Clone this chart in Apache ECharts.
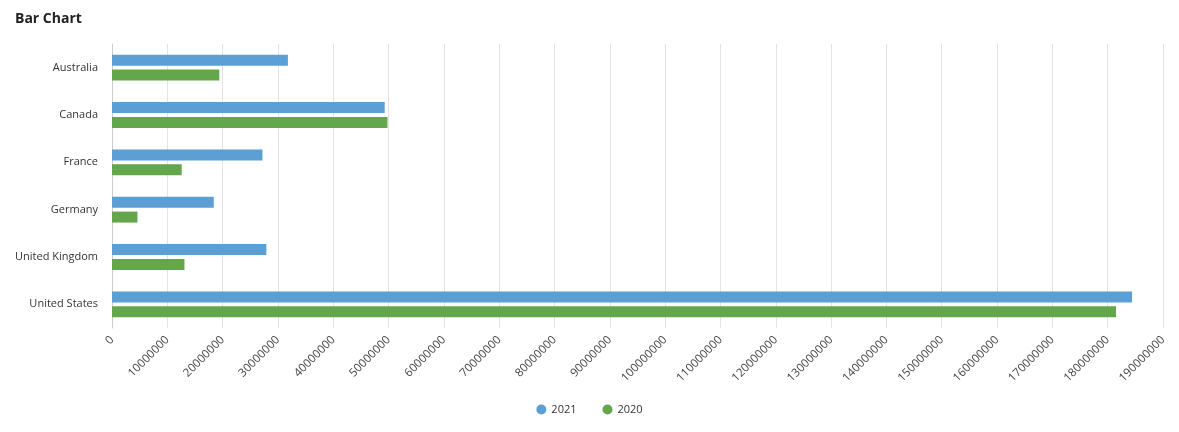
<!DOCTYPE html>
<html><head><meta charset="utf-8">
<script src="https://cdn.jsdelivr.net/npm/echarts@6/dist/echarts.min.js"></script>
<style>html,body{margin:0;padding:0;background:#fff}#c{width:1179px;height:432px}</style>
</head><body><div id="c"></div>
<script>
const categories = ['Australia','Canada','France','Germany','United Kingdom','United States'];
const values2021 = [31800000, 49300000, 27200000, 18400000, 27900000, 184400000];
const values2020 = [19400000, 49800000, 12600000, 4600000, 13100000, 181500000];
const seriesNames = ['2021','2020'];
const chart = echarts.init(document.getElementById('c'));
const font = '"Open Sans", sans-serif';
chart.setOption({
  animation:false,
  title:{text:'Bar Chart', left:10, top:7, textStyle:{fontFamily:font, fontSize:14, fontWeight:'bold', color:'#222'}},
  grid:{left:112, right:16, top:44, bottom:104},
  legend:{bottom:12, left:'center', icon:'circle', itemWidth:10, itemHeight:10, itemGap:26,
    textStyle:{fontFamily:font, fontSize:11, color:'#333'}, data:seriesNames},
  xAxis:{type:'value', min:0, max:190000000, interval:10000000,
    axisLine:{show:false}, axisTick:{show:false},
    splitLine:{lineStyle:{color:'#e3e3e3'}},
    axisLabel:{rotate:45, fontFamily:font, fontSize:11.5, color:'#444', margin:10,
      formatter:function(v){return String(v);}}},
  yAxis:{type:'category', data:categories, inverse:true,
    axisLine:{show:true, lineStyle:{color:'#ccc'}}, axisTick:{show:false},
    axisLabel:{fontFamily:font, fontSize:11, color:'#333', margin:14}},
  series:[
    {name:seriesNames[0], type:'bar', data:values2021, barWidth:11, barGap:'35%', itemStyle:{color:'#5b9fd4'}},
    {name:seriesNames[1], type:'bar', data:values2020, barWidth:11, barGap:'35%', itemStyle:{color:'#63a64c'}}
  ]
});
</script></body></html>
